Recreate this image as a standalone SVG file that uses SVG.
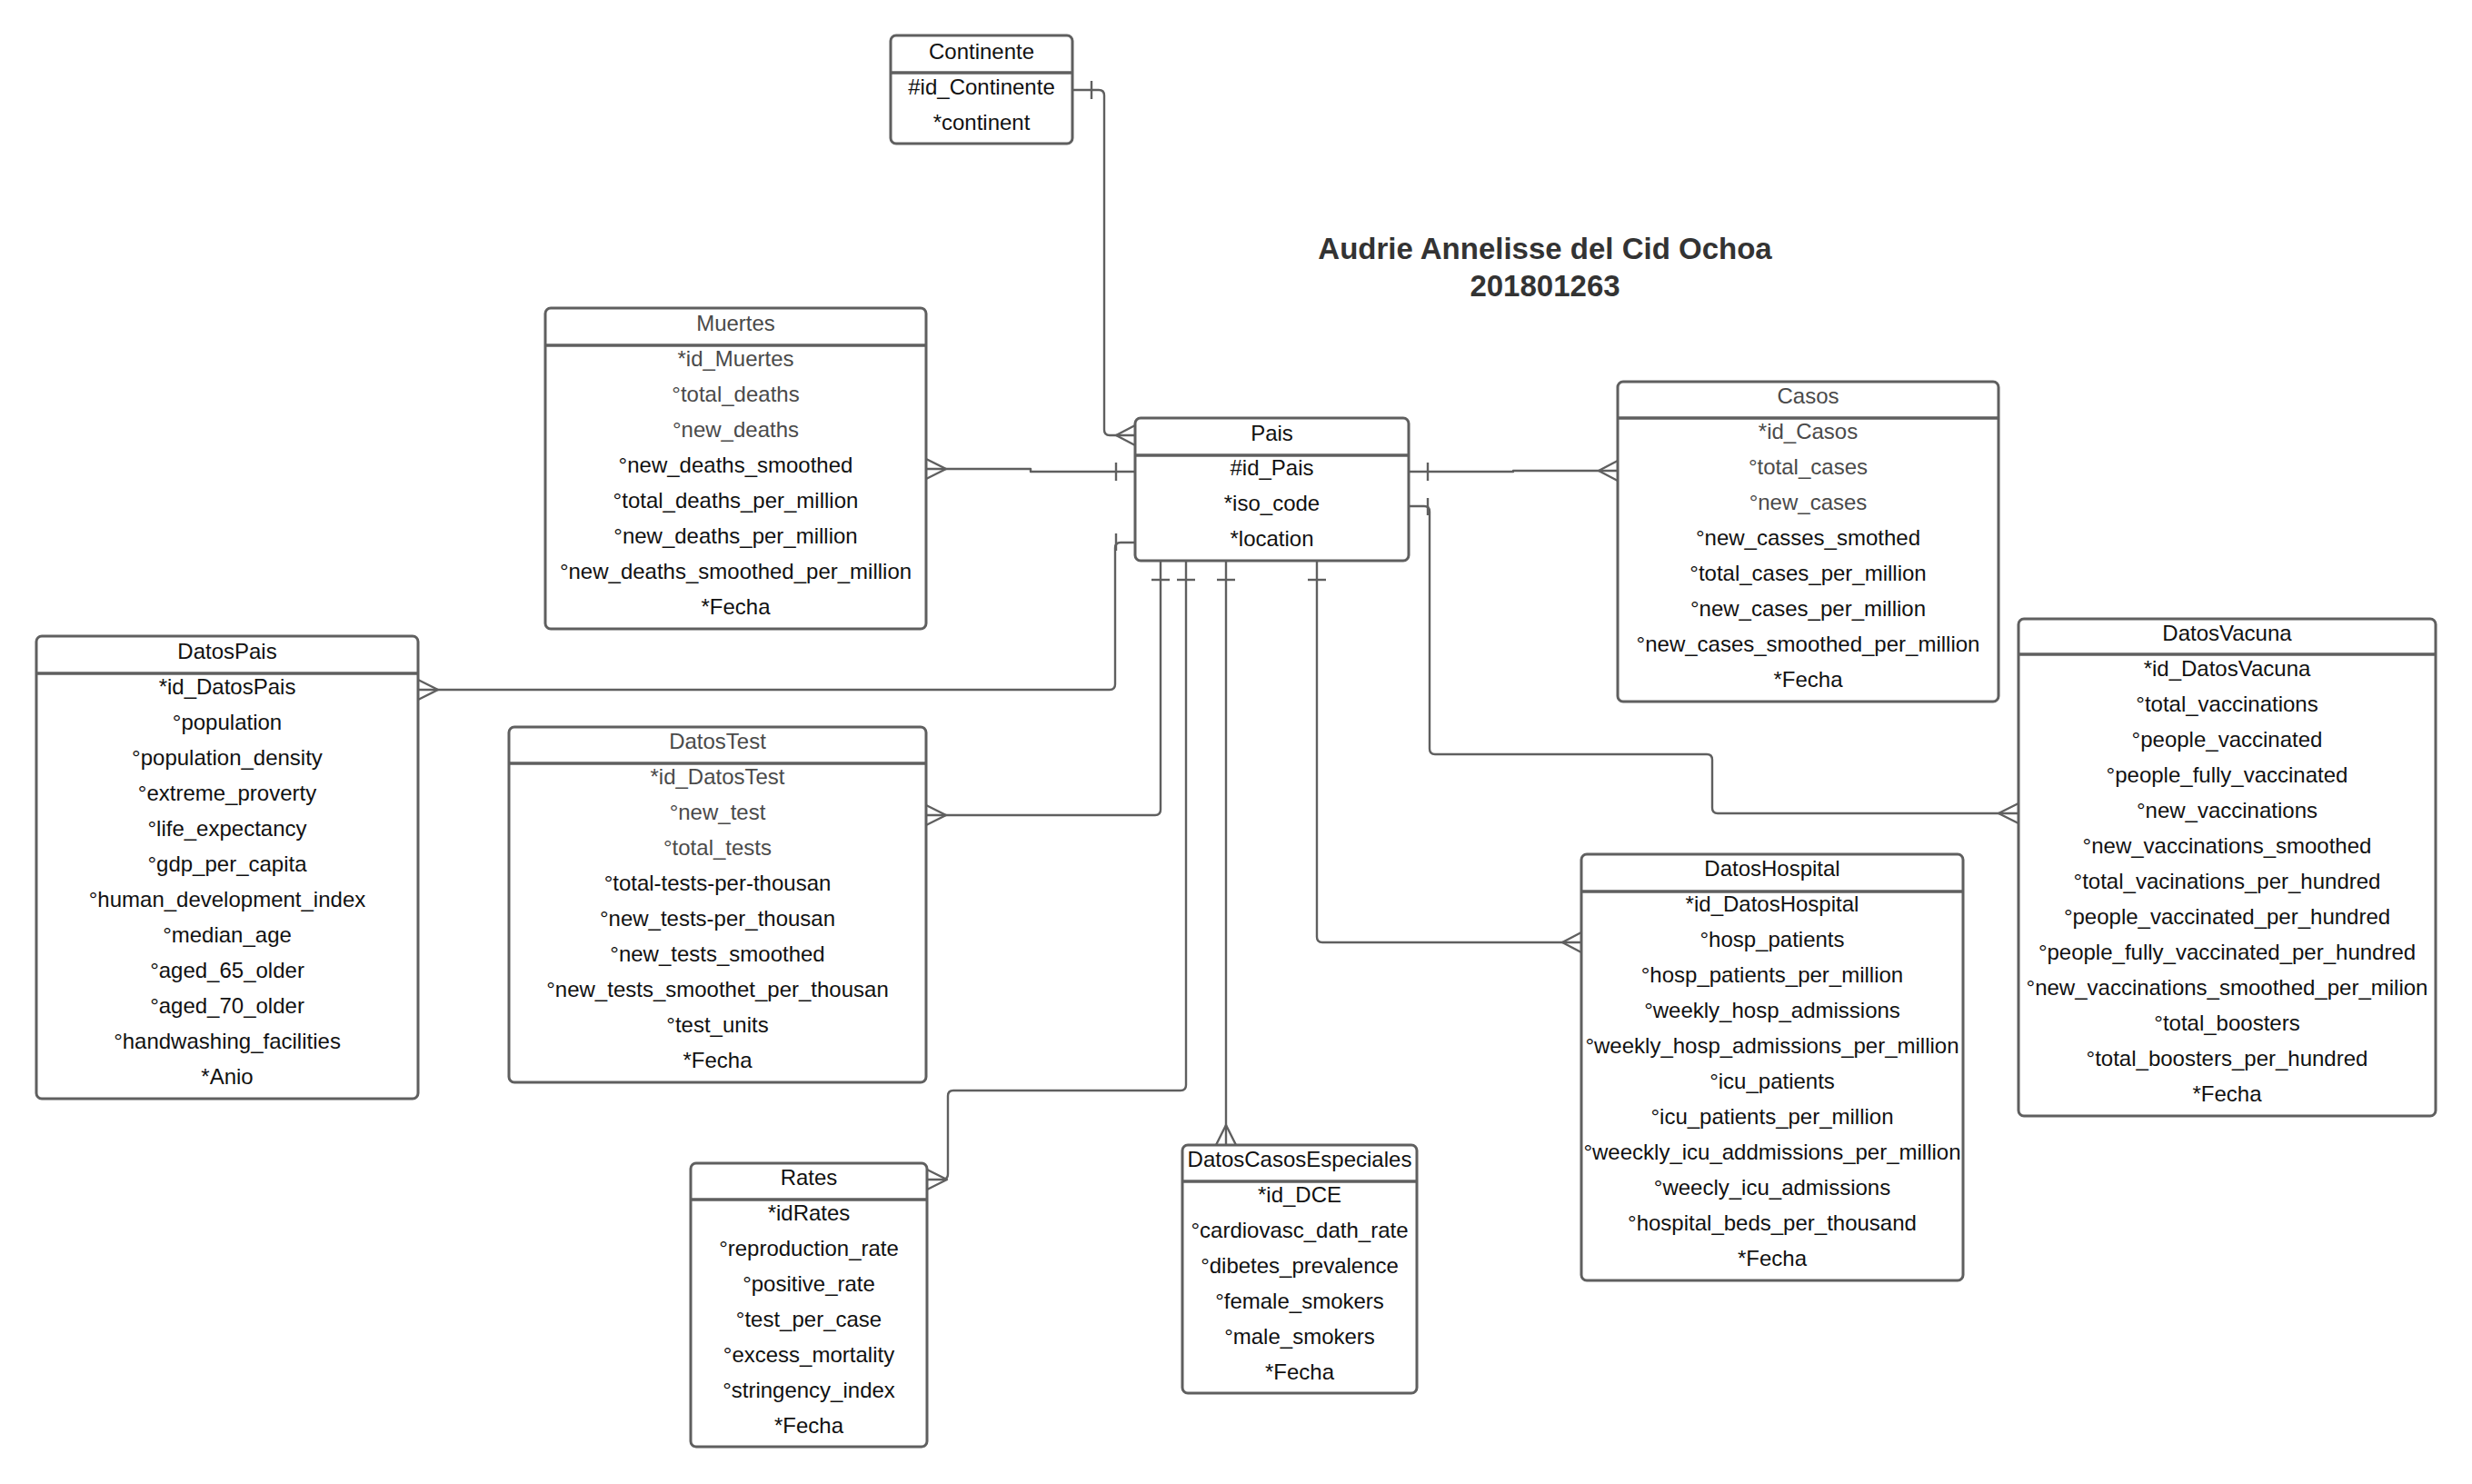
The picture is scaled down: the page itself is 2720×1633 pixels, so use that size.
<svg xmlns="http://www.w3.org/2000/svg" width="2720" height="1633" viewBox="0 0 2720 1633">
<style>
.box{fill:#fff;stroke:#5f5f5f;stroke-width:3}
.dv{stroke:#5f5f5f;stroke-width:3.5}
text{font-family:"Liberation Sans",Arial,sans-serif;font-size:24px;text-anchor:middle;fill:#111}
.g{fill:#4a4a4a}
.ttl{font-size:33px;font-weight:bold;fill:#333}
.cn path,.cn line{fill:none;stroke:#5f5f5f;stroke-width:2.4;stroke-linejoin:round}
</style>
<rect width="2720" height="1633" fill="#fff"/>

<g id="title">
<text class="ttl" x="1700" y="285">Audrie Annelisse del Cid Ochoa</text>
<text class="ttl" x="1700" y="326">201801263</text>
</g>

<g class="cn" id="connectors">
<!-- Continente - Pais -->
<path d="M1180,99 H1209 Q1215,99 1215,105 V473 Q1215,479 1221,479 H1249"/>
<line x1="1201" y1="89" x2="1201" y2="109"/>
<path d="M1249,468 L1228,479 L1249,490"/>
<!-- Muertes - Pais -->
<path d="M1019,516 H1134 V519 H1249"/>
<line x1="1228" y1="509" x2="1228" y2="529"/>
<path d="M1019,505 L1041,516 L1019,527"/>
<!-- Casos - Pais -->
<path d="M1550,519 H1665 V518 H1780"/>
<line x1="1571" y1="509" x2="1571" y2="529"/>
<path d="M1780,507 L1759,518 L1780,529"/>
<!-- DatosVacuna - Pais -->
<path d="M1550,557 H1567 Q1573,557 1573,563 V824 Q1573,830 1579,830 H1878 Q1884,830 1884,836 V889 Q1884,895 1890,895 H2221"/>
<line x1="1571" y1="548" x2="1571" y2="567"/>
<path d="M2221,884 L2199,895 L2221,906"/>
<!-- DatosPais - Pais -->
<path d="M1249,597 H1233 Q1227,597 1227,603 V753 Q1227,759 1221,759 H460"/>
<line x1="1228" y1="587" x2="1228" y2="606"/>
<path d="M460,748 L482,759 L460,770"/>
<!-- DatosTest - Pais -->
<path d="M1277,617 V891 Q1277,897 1271,897 H1019"/>
<line x1="1267" y1="638" x2="1287" y2="638"/>
<path d="M1019,886 L1041,897 L1019,908"/>
<!-- Rates - Pais -->
<path d="M1305,617 V1194 Q1305,1200 1299,1200 H1049 Q1043,1200 1043,1206 V1292 Q1043,1298 1037,1298 H1020"/>
<line x1="1295" y1="638" x2="1315" y2="638"/>
<path d="M1020,1287 L1042,1298 L1020,1309"/>
<!-- DatosCasosEspeciales - Pais -->
<path d="M1349,617 V1260"/>
<line x1="1339" y1="638" x2="1359" y2="638"/>
<path d="M1338,1260 L1349,1238 L1360,1260"/>
<!-- DatosHospital - Pais -->
<path d="M1449,617 V1031 Q1449,1037 1455,1037 H1740"/>
<line x1="1439" y1="638" x2="1459" y2="638"/>
<path d="M1740,1026 L1719,1037 L1740,1048"/>
</g>

<g id="continente">
<rect class="box" x="980" y="39" width="200" height="119" rx="6"/>
<line class="dv" x1="980" y1="80" x2="1180" y2="80"/>
<text x="1080" y="65">Continente</text>
<text x="1080" y="104">#id_Continente</text>
<text x="1080" y="143">*continent</text>
</g>

<g id="muertes">
<rect class="box" x="600" y="339" width="419" height="353" rx="6"/>
<line class="dv" x1="600" y1="380" x2="1019" y2="380"/>
<text class="g" x="809.5" y="364">Muertes</text>
<text class="g" x="809.5" y="403">*id_Muertes</text>
<text class="g" x="809.5" y="442">°total_deaths</text>
<text class="g" x="809.5" y="481">°new_deaths</text>
<text x="809.5" y="520">°new_deaths_smoothed</text>
<text x="809.5" y="559">°total_deaths_per_million</text>
<text x="809.5" y="598">°new_deaths_per_million</text>
<text x="809.5" y="637">°new_deaths_smoothed_per_million</text>
<text x="809.5" y="676">*Fecha</text>
</g>

<g id="pais">
<rect class="box" x="1249" y="460" width="301" height="157" rx="6"/>
<line class="dv" x1="1249" y1="501" x2="1550" y2="501"/>
<text x="1399.5" y="485">Pais</text>
<text x="1399.5" y="523">#id_Pais</text>
<text x="1399.5" y="562">*iso_code</text>
<text x="1399.5" y="601">*location</text>
</g>

<g id="casos">
<rect class="box" x="1780" y="420" width="419" height="352" rx="6"/>
<line class="dv" x1="1780" y1="460" x2="2199" y2="460"/>
<text class="g" x="1989.5" y="444">Casos</text>
<text class="g" x="1989.5" y="483">*id_Casos</text>
<text class="g" x="1989.5" y="522">°total_cases</text>
<text class="g" x="1989.5" y="561">°new_cases</text>
<text x="1989.5" y="600">°new_casses_smothed</text>
<text x="1989.5" y="639">°total_cases_per_million</text>
<text x="1989.5" y="678">°new_cases_per_million</text>
<text x="1989.5" y="717">°new_cases_smoothed_per_million</text>
<text x="1989.5" y="756">*Fecha</text>
</g>

<g id="datosvacuna">
<rect class="box" x="2221" y="681" width="459" height="547" rx="6"/>
<line class="dv" x1="2221" y1="720" x2="2680" y2="720"/>
<text x="2450.5" y="705">DatosVacuna</text>
<text x="2450.5" y="744">*id_DatosVacuna</text>
<text x="2450.5" y="783">°total_vaccinations</text>
<text x="2450.5" y="822">°people_vaccinated</text>
<text x="2450.5" y="861">°people_fully_vaccinated</text>
<text x="2450.5" y="900">°new_vaccinations</text>
<text x="2450.5" y="939">°new_vaccinations_smoothed</text>
<text x="2450.5" y="978">°total_vacinations_per_hundred</text>
<text x="2450.5" y="1017">°people_vaccinated_per_hundred</text>
<text x="2450.5" y="1056">°people_fully_vaccinated_per_hundred</text>
<text x="2450.5" y="1095">°new_vaccinations_smoothed_per_milion</text>
<text x="2450.5" y="1134">°total_boosters</text>
<text x="2450.5" y="1173">°total_boosters_per_hundred</text>
<text x="2450.5" y="1212">*Fecha</text>
</g>

<g id="datospais">
<rect class="box" x="40" y="700" width="420" height="509" rx="6"/>
<line class="dv" x1="40" y1="741" x2="460" y2="741"/>
<text x="250" y="725">DatosPais</text>
<text x="250" y="764">*id_DatosPais</text>
<text x="250" y="803">°population</text>
<text x="250" y="842">°population_density</text>
<text x="250" y="881">°extreme_proverty</text>
<text x="250" y="920">°life_expectancy</text>
<text x="250" y="959">°gdp_per_capita</text>
<text x="250" y="998">°human_development_index</text>
<text x="250" y="1037">°median_age</text>
<text x="250" y="1076">°aged_65_older</text>
<text x="250" y="1115">°aged_70_older</text>
<text x="250" y="1154">°handwashing_facilities</text>
<text x="250" y="1193">*Anio</text>
</g>

<g id="datostest">
<rect class="box" x="560" y="800" width="459" height="391" rx="6"/>
<line class="dv" x1="560" y1="840" x2="1019" y2="840"/>
<text class="g" x="789.5" y="824">DatosTest</text>
<text class="g" x="789.5" y="863">*id_DatosTest</text>
<text class="g" x="789.5" y="902">°new_test</text>
<text class="g" x="789.5" y="941">°total_tests</text>
<text x="789.5" y="980">°total-tests-per-thousan</text>
<text x="789.5" y="1019">°new_tests-per_thousan</text>
<text x="789.5" y="1058">°new_tests_smoothed</text>
<text x="789.5" y="1097">°new_tests_smoothet_per_thousan</text>
<text x="789.5" y="1136">°test_units</text>
<text x="789.5" y="1175">*Fecha</text>
</g>

<g id="datoshospital">
<rect class="box" x="1740" y="940" width="420" height="469" rx="6"/>
<line class="dv" x1="1740" y1="981" x2="2160" y2="981"/>
<text x="1950" y="964">DatosHospital</text>
<text x="1950" y="1003">*id_DatosHospital</text>
<text x="1950" y="1042">°hosp_patients</text>
<text x="1950" y="1081">°hosp_patients_per_million</text>
<text x="1950" y="1120">°weekly_hosp_admissions</text>
<text x="1950" y="1159">°weekly_hosp_admissions_per_million</text>
<text x="1950" y="1198">°icu_patients</text>
<text x="1950" y="1237">°icu_patients_per_million</text>
<text x="1950" y="1276">°weeckly_icu_addmissions_per_million</text>
<text x="1950" y="1315">°weecly_icu_admissions</text>
<text x="1950" y="1354">°hospital_beds_per_thousand</text>
<text x="1950" y="1393">*Fecha</text>
</g>

<g id="rates">
<rect class="box" x="760" y="1280" width="260" height="312" rx="6"/>
<line class="dv" x1="760" y1="1320" x2="1020" y2="1320"/>
<text x="890" y="1304">Rates</text>
<text x="890" y="1343">*idRates</text>
<text x="890" y="1382">°reproduction_rate</text>
<text x="890" y="1421">°positive_rate</text>
<text x="890" y="1460">°test_per_case</text>
<text x="890" y="1499">°excess_mortality</text>
<text x="890" y="1538">°stringency_index</text>
<text x="890" y="1577">*Fecha</text>
</g>

<g id="datoscasosespeciales">
<rect class="box" x="1301" y="1260" width="258" height="273" rx="6"/>
<line class="dv" x1="1301" y1="1300" x2="1559" y2="1300"/>
<text x="1430" y="1284">DatosCasosEspeciales</text>
<text x="1430" y="1323">*id_DCE</text>
<text x="1430" y="1362">°cardiovasc_dath_rate</text>
<text x="1430" y="1401">°dibetes_prevalence</text>
<text x="1430" y="1440">°female_smokers</text>
<text x="1430" y="1479">°male_smokers</text>
<text x="1430" y="1518">*Fecha</text>
</g>
</svg>
